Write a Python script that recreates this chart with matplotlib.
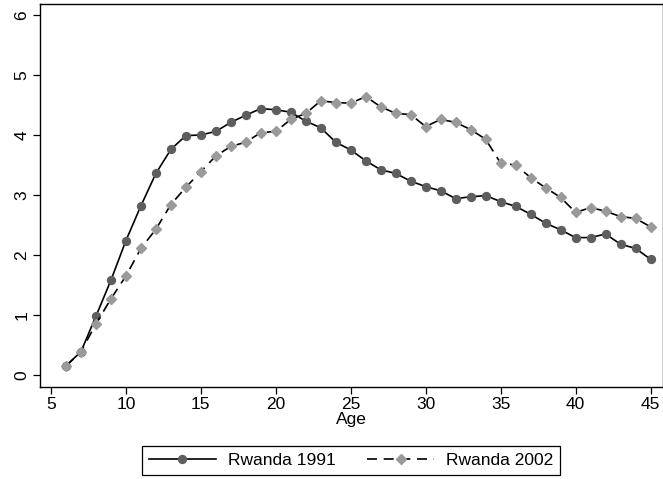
import matplotlib
matplotlib.use("Agg")
import matplotlib.pyplot as plt

plt.rcParams['font.family'] = ['Liberation Sans', 'DejaVu Sans']

ages = list(range(6, 46))
rwanda_1991 = [0.15, 0.39, 0.98, 1.58, 2.24, 2.82, 3.36, 3.76, 3.99, 4.00,
               4.06, 4.21, 4.33, 4.44, 4.42, 4.38, 4.23, 4.12, 3.88, 3.75,
               3.57, 3.42, 3.36, 3.23, 3.14, 3.07, 2.94, 2.97, 2.99, 2.89,
               2.81, 2.68, 2.53, 2.42, 2.29, 2.29, 2.35, 2.18, 2.11, 1.93]
rwanda_2002 = [0.15, 0.39, 0.85, 1.27, 1.65, 2.11, 2.43, 2.84, 3.13, 3.39,
               3.65, 3.81, 3.88, 4.04, 4.06, 4.26, 4.36, 4.57, 4.54, 4.53,
               4.64, 4.47, 4.36, 4.34, 4.14, 4.26, 4.21, 4.09, 3.93, 3.53,
               3.50, 3.29, 3.12, 2.96, 2.71, 2.79, 2.73, 2.64, 2.61, 2.47]
x_ticks = [5, 10, 15, 20, 25, 30, 35, 40, 45]
y_ticks = [0, 1, 2, 3, 4, 5, 6]

W, H = 663, 479
FS = 12.5
fig = plt.figure(figsize=(W / 100, H / 100), dpi=100)
ax = fig.add_axes([40 / W, 1 - 386.7 / H, 622.5 / W, 382.7 / H])

ax.plot(ages, rwanda_1991, color='black', lw=1.2, ls='-',
        marker='o', markersize=5.7, markeredgewidth=1,
        markerfacecolor='#5e5e5e', markeredgecolor='#5e5e5e',
        label='Rwanda 1991')
ax.plot(ages, rwanda_2002, color='black', lw=1.2, ls=(0, (6, 4)),
        marker='D', markersize=5.2, markeredgewidth=1,
        markerfacecolor='#9a9a9a', markeredgecolor='#9a9a9a',
        label='Rwanda 2002')

ax.set_xlim(4.267, 45.8)
ax.set_ylim(-0.195, 6.183)
ax.set_xticks(x_ticks)
ax.set_yticks(y_ticks)
ax.tick_params(direction='out', length=5, width=0.9, pad=2.5,
               labelsize=FS, colors='black')
for lab in ax.get_yticklabels():
    lab.set_rotation(90)
    lab.set_va('center')
for s in ax.spines.values():
    s.set_linewidth(1)
ax.set_xlabel('Age', fontsize=FS, labelpad=0)

leg = fig.legend(loc='center', bbox_to_anchor=(351 / W, 1 - 460.5 / H),
                 ncol=2, fontsize=FS, frameon=True, fancybox=False,
                 edgecolor='black', framealpha=1,
                 handlelength=3.86, handletextpad=0.69, columnspacing=1.84,
                 borderpad=0.4, borderaxespad=0)
leg.get_frame().set_linewidth(0.9)

fig.savefig('out.png', dpi=100)
